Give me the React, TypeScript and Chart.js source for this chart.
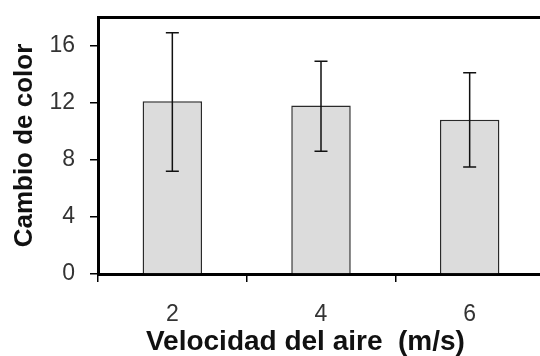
import React, { useEffect, useRef } from "react";
import { Chart, registerables } from "chart.js";

Chart.register(...registerables);

const categories = ["2", "4", "6"];
const means = [12.1, 11.8, 10.8];
const upper = [16.9, 14.9, 14.1];
const lower = [7.2, 8.6, 7.5];
const yTicks = [0, 4, 8, 12, 16];

const FONT = "'Liberation Sans', Arial, sans-serif";

const errorBarPlugin = {
  id: "errorBars",
  afterDatasetsDraw(chart: any) {
    const ctx = chart.ctx;
    const meta = chart.getDatasetMeta(0);
    const y = chart.scales.y;
    ctx.save();
    ctx.strokeStyle = "#111";
    ctx.lineWidth = 1.5;
    meta.data.forEach((bar: any, i: number) => {
      const x = bar.x;
      const yt = y.getPixelForValue(upper[i]);
      const yb = y.getPixelForValue(lower[i]);
      const cap = 6.5;
      ctx.beginPath();
      ctx.moveTo(x, yt);
      ctx.lineTo(x, yb);
      ctx.moveTo(x - cap, yt);
      ctx.lineTo(x + cap, yt);
      ctx.moveTo(x - cap, yb);
      ctx.lineTo(x + cap, yb);
      ctx.stroke();
    });
    ctx.restore();
  },
};

export default function App() {
  const ref = useRef<HTMLCanvasElement>(null);
  useEffect(() => {
    if (!ref.current) return;
    const chart = new Chart(ref.current, {
      type: "bar",
      data: {
        labels: categories,
        datasets: [
          {
            data: means,
            backgroundColor: "#dcdcdc",
            borderColor: "#2a2a2a",
            borderWidth: 1.5,
            barPercentage: 0.4,
            categoryPercentage: 1,
          },
        ],
      },
      options: {
        responsive: false,
        animation: false,
        layout: { padding: 0 },
        plugins: { legend: { display: false }, tooltip: { enabled: false } },
        scales: {
          x: {
            position: "bottom",
            grid: {
              display: true,
              drawOnChartArea: false,
              drawTicks: true,
              tickLength: 8,
              color: "#000",
              lineWidth: 1.5,
              offset: true,
            },
            border: { display: true, color: "#000", width: 3 },
            ticks: {
              color: "#333",
              font: { family: FONT, size: 23 },
              padding: 19,
            },
            title: {
              display: true,
              text: "Velocidad del aire  (m/s)    ",
              color: "#111",
              font: { family: FONT, size: 28, weight: "bold", lineHeight: 1 },
              padding: { top: 0, bottom: 0 },
            },
            afterFit: (s: any) => {
              s.height = 82;
              s.paddingLeft = 0;
              s.paddingRight = 0;
            },
          },
          x2: {
            type: "linear",
            position: "top",
            min: 0,
            max: 1,
            grid: { display: false },
            ticks: { display: false },
            border: { display: true, color: "#000", width: 3 },
            afterFit: (s: any) => {
              s.height = 17;
              s.paddingLeft = 0;
              s.paddingRight = 0;
            },
          },
          y: {
            min: 0,
            max: 18,
            ticks: {
              stepSize: 2,
              color: "#333",
              font: { family: FONT, size: 23 },
              padding: 15,
              callback: (v: any) => (yTicks.includes(Number(v)) ? String(v) : ""),
            },
            grid: {
              drawOnChartArea: false,
              drawTicks: true,
              tickLength: 8,
              lineWidth: 1.5,
              color: (c: any) => (c.tick && c.tick.value === 18 ? "rgba(0,0,0,0)" : "#000"),
            },
            border: { display: true, color: "#000", width: 3 },
            title: {
              display: true,
              text: "Cambio de color",
              color: "#111",
              font: { family: FONT, size: 26, weight: "bold", lineHeight: 1 },
              padding: { top: 12, bottom: 0 },
            },
            afterFit: (s: any) => {
              s.width = 98;
              s.paddingTop = 0;
              s.paddingBottom = 0;
            },
          },
        },
      },
      plugins: [errorBarPlugin],
    } as any);
    return () => chart.destroy();
  }, []);
  return (
    <div
      style={{
        position: "absolute",
        left: 0,
        top: 0,
        width: 540,
        height: 356,
        overflow: "hidden",
        background: "#fff",
      }}
    >
      <canvas ref={ref} width={544} height={356} style={{ display: "block" }} />
    </div>
  );
}
